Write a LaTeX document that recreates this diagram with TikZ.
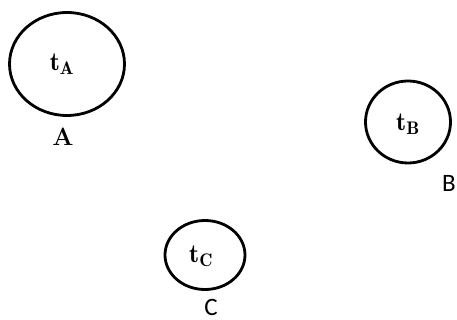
\documentclass[tikz,border=0pt]{standalone}
\usepackage{fontspec}
\usetikzlibrary{shapes.geometric}
\newfontfamily\labfont{Carlito}
\tikzset{
  txn/.style={draw=black, ellipse, line width=2.8pt, inner sep=0pt},
  tname/.style={font=\fontsize{26}{30}\selectfont},
  boldlab/.style={font=\fontsize{25}{30}\selectfont\bfseries, inner sep=1pt},
  sanslab/.style={font=\fontsize{25}{30}\selectfont\labfont, inner sep=1pt}
}
\begin{document}
\begin{tikzpicture}[x=1pt, y=-1pt]
  \useasboundingbox (0,0) rectangle (457,320);
  % transactions
  \node[txn, minimum width=115pt, minimum height=103pt] (ellA) at (67,64) {};
  \node[txn, minimum width=85pt, minimum height=82pt] (ellB) at (408,122) {};
  \node[txn, minimum width=80pt, minimum height=69pt] (ellC) at (205,255) {};
  \node[tname] (tA) at (62,64) {$\mathbf{t}_{\mathbf{A}}$};
  \node[tname] (tB) at (408,124) {$\mathbf{t}_{\mathbf{B}}$};
  \node[tname] (tC) at (201,256) {$\mathbf{t}_{\mathbf{C}}$};
  % site names
  \node[boldlab] (labA) at (63,137) {A};
  \node[sanslab] (labB) at (449,183) {B};
  \node[sanslab] (labC) at (211,307) {C};
\end{tikzpicture}
\end{document}
